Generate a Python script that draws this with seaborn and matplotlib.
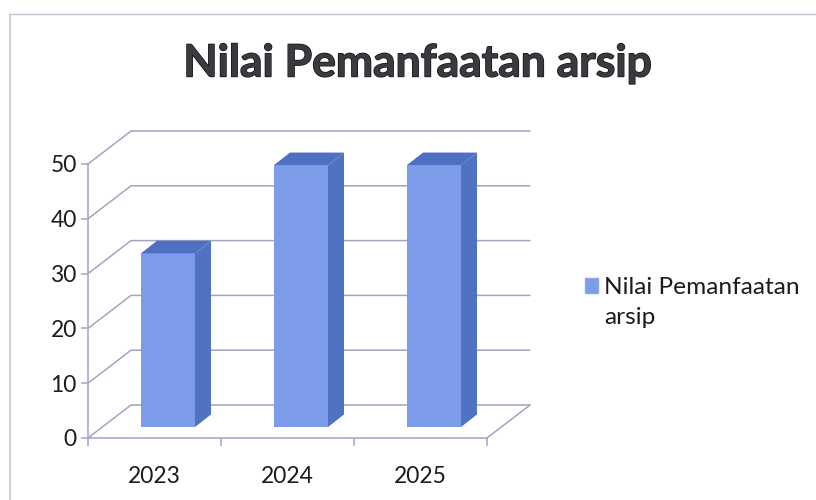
import matplotlib
matplotlib.use("Agg")
import matplotlib.pyplot as plt
import matplotlib.patheffects as pe
from matplotlib.lines import Line2D
from matplotlib.patches import Patch, Polygon
import pandas as pd
import seaborn as sns

# Data
years = ["2023", "2024", "2025"]
values = [31.7, 47.8, 47.8]
y_ticks = [0, 10, 20, 30, 40, 50]
title = "Nilai Pemanfaatan arsip"
legend_label = "Nilai Pemanfaatan\narsip"

df = pd.DataFrame({"tahun": years, "nilai": values})

FRONT = "#7c9cea"
SIDE = "#5072c2"
TOP = "#4f70c2"
GRID = "#a3a3c4"
BORDER = "#c4c4d4"
TEXT = "#1c1c1c"

W, H = 816, 500

sns.set_theme(style="white")
plt.rcParams["font.family"] = ["Lato", "DejaVu Sans"]

fig = plt.figure(figsize=(W / 100, H / 100), dpi=100)
# front plane of the fake 3d box: x 88-487, y 164-438 in pixels
ax = fig.add_axes([88 / W, 1 - 438 / H, 399 / W, 274 / H])
ax.patch.set_alpha(0)

sns.barplot(data=df, x="tahun", y="nilai", color=FRONT, saturation=1,
            width=0.406, ax=ax, zorder=3)
ax.set_xlim(-0.5, 2.5)
ax.set_ylim(0, 50)

# depth of the box and of the bars, in data units
wall_dx = 43 / 133
wall_dy = 33 / 5.48
bar_dx = 13.5 / 133
bar_dy = 11 / 5.48
side_dx = 16 / 133
side_dy = 12.5 / 5.48

# back wall grid
x0, x1 = ax.get_xlim()
for t in y_ticks:
    ax.plot([x0, x0 + wall_dx, x1 + wall_dx], [t, t + wall_dy, t + wall_dy],
            color=GRID, lw=1.1, clip_on=False, zorder=1)
ax.plot([x1, x1 + wall_dx], [0, wall_dy], color=GRID, lw=1.1, clip_on=False, zorder=1)

# shift bars into the box and add side and top faces
for p in ax.patches:
    p.set_x(p.get_x() + bar_dx)
    p.set_y(bar_dy)
    p.set_clip_on(False)
    p.set_edgecolor("none")
    xl, xr = p.get_x(), p.get_x() + p.get_width()
    yb, yt = p.get_y(), p.get_y() + p.get_height()
    ax.add_patch(Polygon([(xr, yb), (xr + side_dx, yb + side_dy),
                          (xr + side_dx, yt + side_dy), (xr, yt)],
                         facecolor=SIDE, edgecolor="none", clip_on=False, zorder=3))
    ax.add_patch(Polygon([(xl, yt), (xl + side_dx, yt + side_dy),
                          (xr + side_dx, yt + side_dy), (xr, yt)],
                         facecolor=TOP, edgecolor="none", clip_on=False, zorder=3))

# axes
for s in ["top", "right"]:
    ax.spines[s].set_visible(False)
for s in ["left", "bottom"]:
    ax.spines[s].set_color(GRID)
    ax.spines[s].set_linewidth(1.1)
ax.set_yticks(y_ticks)
ax.set_xticks([-0.5, 0.5, 1.5, 2.5], minor=True)
ax.set_xlabel("")
ax.set_ylabel("")
ax.tick_params(axis="x", which="major", length=0, pad=20, labelsize=16.4, labelcolor=TEXT)
ax.tick_params(axis="x", which="minor", length=6, width=1.1, color=GRID, bottom=True)
ax.tick_params(axis="y", length=5, width=1.1, color=GRID, left=True, pad=3,
               labelsize=16.4, labelcolor=TEXT)

fig.text(418 / W, 1 - 63.5 / H, title, ha="center", va="center", fontsize=32,
         fontweight="bold", color="#3a3a40",
         path_effects=[pe.withStroke(linewidth=1.0, foreground="#111111")])

handle = Patch(facecolor=FRONT, edgecolor="#8fa8e6", label=legend_label)
leg = fig.legend(handles=[handle], loc="upper left", bbox_to_anchor=(568 / W, 1 - 260 / H),
                 frameon=False, fontsize=17.6, labelcolor=TEXT, handlelength=0.53,
                 handleheight=0.53, handletextpad=0.25, borderpad=0.2, labelspacing=0)
leg.get_texts()[0].set_linespacing(1.5)
# box lines up with the first text line, not the middle of both
leg.legend_handles[0].set_y(leg.legend_handles[0].get_y() + 12)

# chart frame
fig.add_artist(Line2D([10 / W, 10 / W], [0, 1 - 14 / H], color=BORDER, lw=1.2))
fig.add_artist(Line2D([10 / W, 1], [1 - 14 / H, 1 - 14 / H], color=BORDER, lw=1.0))

fig.savefig("out.png", dpi=100)
